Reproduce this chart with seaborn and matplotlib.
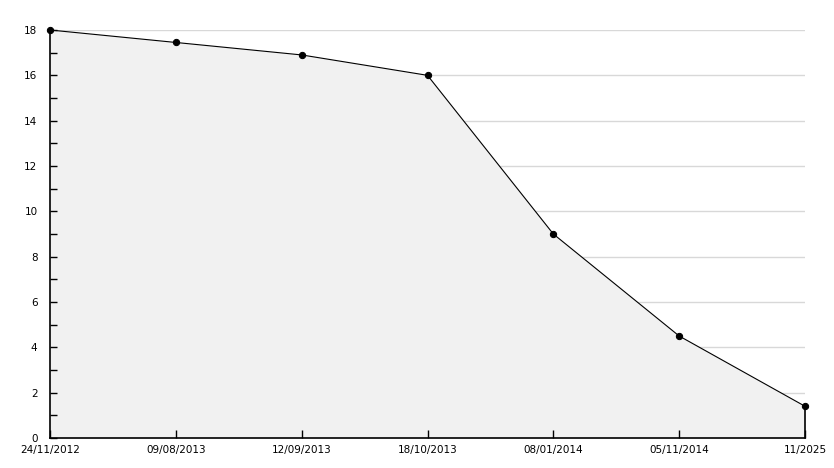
import numpy as np
import pandas as pd
import seaborn as sns
import matplotlib.pyplot as plt

dates = ["24/11/2012", "09/08/2013", "12/09/2013", "18/10/2013",
         "08/01/2014", "05/11/2014", "11/2025"]
values = [18, 17.45, 16.9, 16, 9, 4.5, 1.4]

df = pd.DataFrame({"pos": np.arange(len(dates)), "value": values})

sns.set_style("white")
plt.rcParams['font.family'] = ['DejaVu Sans']

fig = plt.figure(figsize=(8.34, 4.68), dpi=100)
ax = fig.add_axes([50 / 834, 30 / 468, 755 / 834, 408 / 468])
ax.set_axisbelow(False)

# gridlines at even values, under the fill
for yv in range(2, 19, 2):
    ax.axhline(yv, color='#d8d8d8', lw=1, zorder=0)

ax.fill_between(df["pos"], df["value"], 0, color='#f1f1f1', zorder=1, lw=0)
sns.lineplot(data=df, x="pos", y="value", ax=ax, color='black', lw=0.8,
             marker='o', markersize=4.5, markeredgecolor='black', zorder=3,
             clip_on=False)
ax.plot([df["pos"].iloc[-1]] * 2, [0, values[-1]], color='black', lw=1.2,
        zorder=3, clip_on=False)

ax.set_xlim(0, len(dates) - 1)
ax.set_ylim(0, 18)
ax.set_xticks(df["pos"])
ax.set_xticklabels(dates)
ax.set_yticks(range(0, 19, 2))
ax.set_yticks(range(1, 18, 2), minor=True)
ax.set_xlabel("")
ax.set_ylabel("")

for s in ["top", "right"]:
    ax.spines[s].set_visible(False)
for s in ["left", "bottom"]:
    ax.spines[s].set_color('black')
    ax.spines[s].set_linewidth(1.2)

ax.tick_params(axis='both', which='both', direction='in', length=5, width=1,
               colors='black', labelsize=7.5, left=True, bottom=True)
ax.tick_params(axis='y', which='major', pad=9)
ax.tick_params(axis='x', which='major', pad=5, length=6)
ax.tick_params(axis='x', which='minor', length=0)

fig.savefig("out.png", dpi=100, facecolor='white')
